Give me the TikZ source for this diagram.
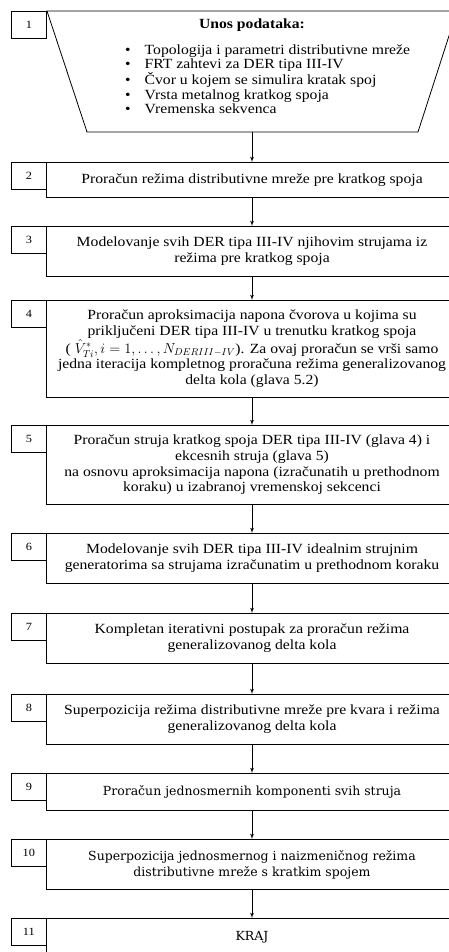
\documentclass[tikz,border=0pt]{standalone}
\usepackage{amsmath}
\usepackage{fontspec}
\setmainfont{Liberation Serif}[FakeStretch=1.12]
\newfontfamily\slabfont{DejaVu Serif}
\usetikzlibrary{arrows}
\tikzset{
    stepbox/.style={rectangle,draw,line width=0.8pt,minimum width=412pt,anchor=north,align=center,inner sep=0pt,font=\fontsize{14}{15.8}\selectfont},
    endbox/.style={stepbox,font=\slabfont\fontsize{12.5}{16}\selectfont},
    numbox/.style={rectangle,draw,line width=0.8pt,minimum width=35pt,minimum height=27pt,anchor=north west,inner sep=0pt,font=\fontsize{11}{13}\selectfont},
    inputbox/.style={draw,line width=0.8pt,line join=miter},
    flow/.style={->,> = latex', draw=black, line width=0.8pt},
}

\begin{document}
\begin{tikzpicture}[x=1pt,y=-1pt]
    \useasboundingbox (0,0) rectangle (449,952);
    \clip (0,0) rectangle (449,952);
    \draw[inputbox] (47,11) -- (457,11) -- (418,132) -- (87,132) -- cycle;
    \coordinate (b1) at (252,132);
    \node[font=\fontsize{14}{15.8}\selectfont\bfseries] (t1) at (252,25) {Unos podataka:};
    \node[anchor=west,inner sep=0pt,font=\fontsize{14}{14.2}\selectfont] (t2) at (125,81) {\begin{tabular}{@{}l@{\hspace{14pt}}l@{}}
        \textbullet & Topologija i parametri distributivne mreže\\
        \textbullet & FRT zahtevi za DER tipa III-IV\\
        \textbullet & Čvor u kojem se simulira kratak spoj\\
        \textbullet & Vrsta metalnog kratkog spoja\\
        \textbullet & Vremenska sekvenca
    \end{tabular}};
    \node[stepbox,minimum height=35pt] (b2) at (252,162) {Proračun režima distributivne mreže pre kratkog spoja};
    \node[stepbox,minimum height=50pt] (b3) at (252,226) {Modelovanje svih DER tipa III-IV njihovim strujama iz\\režima pre kratkog spoja};
    \node[stepbox,minimum height=97pt] (b4) at (252,300) {Proračun aproksimacija napona čvorova u kojima su\\priključeni DER tipa III-IV u trenutku kratkog spoja\\( $\hat{V}^{*}_{Ti}, i=1,\dots,N_{DERIII-IV}$). Za ovaj proračun se vrši samo\\jedna iteracija kompletnog proračuna režima generalizovanog\\delta kola (glava 5.2)};
    \node[stepbox,minimum height=79pt] (b5) at (252,425) {Proračun struja kratkog spoja DER tipa III-IV (glava 4) i\\ekcesnih struja (glava 5)\\na osnovu aproksimacija napona (izračunatih u prethodnom\\koraku) u izabranoj vremenskoj sekcenci};
    \node[stepbox,minimum height=50pt] (b6) at (252,533) {Modelovanje svih DER tipa III-IV idealnim strujnim\\generatorima sa strujama izračunatim u prethodnom koraku};
    \node[stepbox,minimum height=50pt] (b7) at (252,613) {Kompletan iterativni postupak za proračun režima\\generalizovanog delta kola};
    \node[stepbox,minimum height=50pt] (b8) at (252,694) {Superpozicija režima distributivne mreže pre kvara i režima\\generalizovanog delta kola};
    \node[endbox,minimum height=37pt] (b9) at (252,773) {Proračun jednosmernih komponenti svih struja};
    \node[endbox,minimum height=50pt] (b10) at (252,839) {Superpozicija jednosmernog i naizmeničnog režima\\distributivne mreže s kratkim spojem};
    \node[endbox,minimum height=38pt] (b11) at (252,918) {KRAJ};
    \node[numbox] (n1) at (11,11) {1};
    \node[numbox] (n2) at (11,162) {2};
    \node[numbox] (n3) at (11,226) {3};
    \node[numbox] (n4) at (11,300) {4};
    \node[numbox] (n5) at (11,425) {5};
    \node[numbox] (n6) at (11,533) {6};
    \node[numbox] (n7) at (11,613) {7};
    \node[numbox] (n8) at (11,694) {8};
    \node[numbox] (n9) at (11,773) {9};
    \node[numbox] (n10) at (11,839) {10};
    \node[numbox] (n11) at (11,918) {11};
    \draw[flow] (b1) -- (b2);
    \draw[flow] (b2) -- (b3);
    \draw[flow] (b3) -- (b4);
    \draw[flow] (b4) -- (b5);
    \draw[flow] (b5) -- (b6);
    \draw[flow] (b6) -- (b7);
    \draw[flow] (b7) -- (b8);
    \draw[flow] (b8) -- (b9);
    \draw[flow] (b9) -- (b10);
    \draw[flow] (b10) -- (b11);
\end{tikzpicture}
\end{document}
